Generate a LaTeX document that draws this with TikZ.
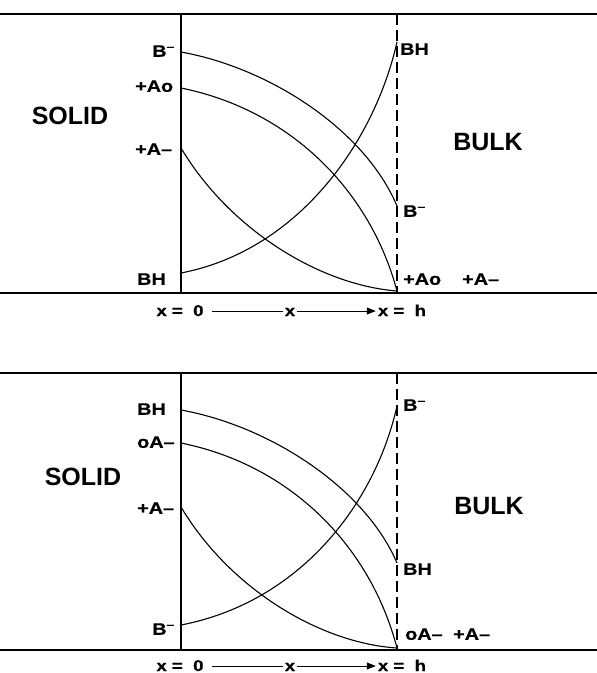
\documentclass[tikz,border=0pt]{standalone}
\usepackage{fontspec}
\setmainfont{Liberation Sans}
\newfontfamily\lblfont[FakeStretch=1.2,FakeBold=0.6]{Liberation Sans}
\usetikzlibrary{arrows.meta}

\begin{document}
\begin{tikzpicture}[x=1pt,y=-1pt,
        lbl/.style={font=\lblfont\bfseries\fontsize{16.5}{16.5}\selectfont,inner sep=1pt,text height=11.5pt,text depth=0pt},
        big/.style={font=\bfseries\fontsize{25}{25}\selectfont,inner sep=0pt},
        axis/.style={font=\lblfont\bfseries\fontsize{15.5}{15.5}\selectfont,inner sep=2pt,text height=10pt,text depth=0pt},
        rim/.style={line width=2.5pt},
        wall/.style={line width=1.6pt},
        film/.style={line width=1.6pt,dash pattern=on 11pt off 5pt},
        curve/.style={line width=1.1pt}]
        \useasboundingbox (0,0) rectangle (597,673);
        \draw[rim] (0,14) -- (597,14);
        \draw[rim] (0,293) -- (597,293);
        \draw[wall] (181,14) -- (181,293);
        \draw[film] (397,14) -- (397,293);
        \node[big] (s1) at (70,116) {SOLID};
        \node[big] (k1) at (488,142) {BULK};
        \coordinate (a1l) at (181,52);
        \coordinate (a1r) at (397,206);
        \coordinate (b1l) at (181,88);
        \coordinate (b1r) at (397,291);
        \coordinate (c1l) at (181,148);
        \coordinate (c1r) at (397,291);
        \coordinate (d1l) at (181,273);
        \coordinate (d1r) at (397,42);
        \draw[curve] (a1l) .. controls (270,68) and (365,130) .. (a1r);
        \draw[curve] (b1l) .. controls (290,110) and (370,190) .. (b1r);
        \draw[curve] (c1l) .. controls (230,230) and (320,285) .. (c1r);
        \draw[curve] (d1l) .. controls (300,250) and (375,140) .. (d1r);
        \node[lbl,anchor=east] (la1) at (176,51) {B\textsuperscript{–}};
        \node[lbl,anchor=west] (lb1) at (134,86) {+Ao};
        \node[lbl,anchor=west] (lc1) at (134,149) {+A–};
        \node[lbl,anchor=west] (ld1) at (136,279) {BH};
        \node[lbl,anchor=west] (rd1) at (399,49) {BH};
        \node[lbl,anchor=west] (ra1) at (402,211) {B\textsuperscript{–}};
        \node[lbl,anchor=west] (rb1) at (402,279) {+Ao};
        \node[lbl,anchor=west] (rc1) at (461,279) {+A–};
        \node[axis] (x01) at (180,311) {x =\ \ 0};
        \node[axis] (xm1) at (290,311) {x};
        \node[axis] (xh1) at (402,311) {x =\ \ h};
        \draw[line width=0.8pt,shorten <=6pt] (x01) -- (xm1);
        \draw[line width=0.8pt,-{Triangle[length=9pt,width=7pt]}] (xm1) -- (xh1);
        \draw[rim] (0,373) -- (597,373);
        \draw[rim] (0,650) -- (597,650);
        \draw[wall] (181,373) -- (181,650);
        \draw[film] (397,373) -- (397,650);
        \node[big] (s2) at (83,477) {SOLID};
        \node[big] (k2) at (489,506) {BULK};
        \coordinate (a2l) at (181,410);
        \coordinate (a2r) at (397,563);
        \coordinate (b2l) at (181,443);
        \coordinate (b2r) at (397,648);
        \coordinate (c2l) at (181,507);
        \coordinate (c2r) at (397,648);
        \coordinate (d2l) at (181,625);
        \coordinate (d2r) at (397,406);
        \draw[curve] (a2l) .. controls (270,426) and (365,488) .. (a2r);
        \draw[curve] (b2l) .. controls (290,465) and (370,545) .. (b2r);
        \draw[curve] (c2l) .. controls (230,589) and (320,643) .. (c2r);
        \draw[curve] (d2l) .. controls (300,602) and (375,504) .. (d2r);
        \node[lbl,anchor=west] (la2) at (136,409) {BH};
        \node[lbl,anchor=west] (lb2) at (136,442) {oA–};
        \node[lbl,anchor=west] (lc2) at (136,508) {+A–};
        \node[lbl,anchor=east] (ld2) at (176,629) {B\textsuperscript{–}};
        \node[lbl,anchor=west] (rd2) at (402,405) {B\textsuperscript{–}};
        \node[lbl,anchor=west] (ra2) at (402,569) {BH};
        \node[lbl,anchor=west] (rb2) at (404,634) {oA–};
        \node[lbl,anchor=west] (rc2) at (452,634) {+A–};
        \node[axis] (x02) at (180,666) {x =\ \ 0};
        \node[axis] (xm2) at (290,666) {x};
        \node[axis] (xh2) at (402,666) {x =\ \ h};
        \draw[line width=0.8pt,shorten <=6pt] (x02) -- (xm2);
        \draw[line width=0.8pt,-{Triangle[length=9pt,width=7pt]}] (xm2) -- (xh2);
\end{tikzpicture}
\end{document}
